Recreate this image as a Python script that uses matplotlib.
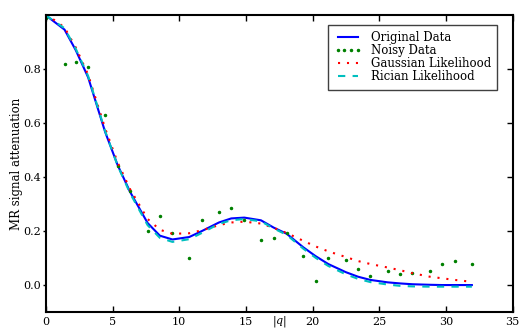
import matplotlib
matplotlib.use('Agg')
import matplotlib.pyplot as plt

# |q| sample positions
q = [0.0, 1.40, 2.25, 3.17, 4.45, 5.38, 6.32, 7.63, 8.55, 9.49, 10.75, 11.69,
     12.98, 13.90, 14.88, 16.13, 17.08, 18.06, 19.30, 20.23, 21.17, 22.48,
     23.40, 24.33, 25.63, 26.56, 27.48, 28.78, 29.71, 30.66, 31.94]

original = [1.0, 0.947, 0.87, 0.77, 0.567, 0.445, 0.345, 0.230, 0.183, 0.169,
            0.178, 0.200, 0.232, 0.247, 0.250, 0.240, 0.213, 0.190, 0.140,
            0.107, 0.078, 0.048, 0.031, 0.019, 0.010, 0.006, 0.003, 0.001,
            0.0, 0.0, 0.0]

noisy = [0.989, 0.819, 0.827, 0.807, 0.630, 0.442, 0.350, 0.200, 0.255, 0.193,
         0.101, 0.241, 0.270, 0.285, 0.241, 0.167, 0.175, 0.192, 0.106, 0.016,
         0.102, 0.093, 0.059, 0.035, 0.053, 0.041, 0.043, 0.052, 0.078, 0.090,
         0.078]

gaussian = [1.005, 0.955, 0.88, 0.78, 0.58, 0.455, 0.355, 0.245, 0.205, 0.190,
            0.192, 0.203, 0.222, 0.232, 0.235, 0.228, 0.212, 0.193, 0.164,
            0.143, 0.125, 0.104, 0.089, 0.078, 0.065, 0.055, 0.044, 0.031,
            0.025, 0.019, 0.012]

rician = [1.0, 0.952, 0.875, 0.775, 0.57, 0.443, 0.340, 0.222, 0.175, 0.160,
          0.170, 0.193, 0.227, 0.240, 0.245, 0.236, 0.210, 0.186, 0.135,
          0.101, 0.071, 0.040, 0.023, 0.011, 0.002, -0.003, -0.005, -0.006,
          -0.006, -0.006, -0.006]

plt.rcParams['font.family'] = 'DejaVu Serif'
plt.rcParams['font.size'] = 8
plt.rcParams['mathtext.fontset'] = 'dejavuserif'

fig = plt.figure(figsize=(5.21, 3.33), dpi=100)
ax = fig.add_axes([0.088, 0.063, 0.896, 0.891])

ax.plot(q, original, color='b', lw=1.5, label='Original Data')
ax.plot(q, noisy, color='g', ls='none', marker='.', ms=3, label='Noisy Data')
ax.plot(q, gaussian, color='r', lw=1.5, ls=(0, (1, 3.3)), label='Gaussian Likelihood')
ax.plot(q, rician, color='c', lw=1.5, ls=(0, (3.5, 3.5)), label='Rician Likelihood')

ax.set_xlim(0, 35)
ax.set_ylim(-0.1, 1.0)
ax.set_xticks([0, 5, 10, 15, 20, 25, 30, 35])
ax.set_yticks([0.0, 0.2, 0.4, 0.6, 0.8])
ax.set_xlabel('$|q|$', labelpad=-9)
ax.set_ylabel('MR signal attenuation', fontsize=8.5, labelpad=0.5)

for s in ax.spines.values():
    s.set_linewidth(1.5)
ax.tick_params(axis='x', direction='in', top=True, length=4, width=1)
ax.tick_params(axis='y', direction='out', right=False, length=2.5, width=1, pad=1)

ax2 = ax.twinx()
ax2.set_ylim(-0.1, 1.0)
ax2.set_yticks([0.0, 0.2, 0.4, 0.6, 0.8])
ax2.tick_params(axis='y', direction='in', length=4, width=1, labelright=False)
for s in ax2.spines.values():
    s.set_visible(False)

leg = ax.legend(loc='upper right', bbox_to_anchor=(0.98, 0.988), numpoints=4,
                fontsize=8.5, labelspacing=0.0, handlelength=2.3,
                handletextpad=0.8, borderpad=0.55, fancybox=False,
                framealpha=1, edgecolor='#404040')
leg.get_frame().set_linewidth(1.0)

fig.savefig('out.png', dpi=100)
